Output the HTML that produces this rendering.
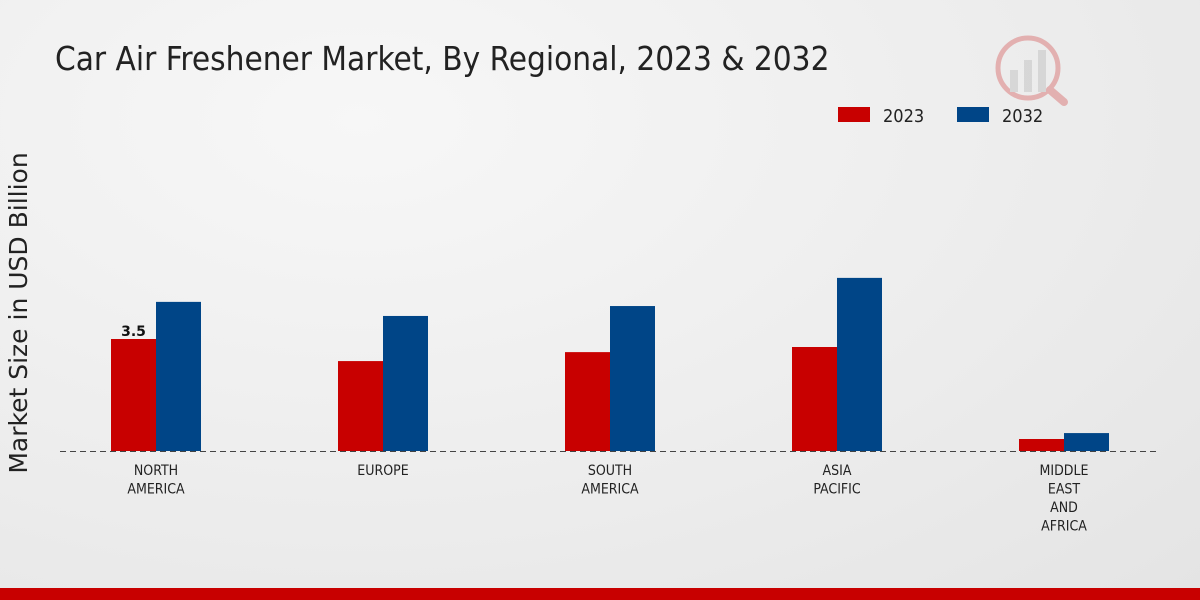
<!DOCTYPE html>
<html><head><meta charset="utf-8"><style>
body{margin:0;width:1200px;height:600px;overflow:hidden;font-family:"DejaVu Sans","Liberation Sans",sans-serif;}
#bg{position:absolute;left:0;top:0;width:1200px;height:600px;background:radial-gradient(ellipse at 30% 20%,#f7f7f7 0%,#ececec 60%,#e4e4e4 100%);}
</style></head><body>
<div id="bg"></div>
<svg id="c" width="1200" height="600" style="position:absolute;left:0;top:0">
<text x="55" y="70" font-size="33" fill="#222" font-family="DejaVu Sans Condensed,DejaVu Sans,sans-serif">Car Air Freshener Market, By Regional, 2023 &amp; 2032</text>
<g>
<rect x="838" y="107" width="32" height="15" fill="#c80000"/>
<text x="883" y="122" font-size="18" fill="#222" font-family="DejaVu Sans Condensed,DejaVu Sans,sans-serif">2023</text>
<rect x="957" y="107" width="32" height="15" fill="#004587"/>
<text x="1002" y="122" font-size="18" fill="#222" font-family="DejaVu Sans Condensed,DejaVu Sans,sans-serif">2032</text>
</g>
<text transform="translate(27,313) rotate(-90)" text-anchor="middle" font-size="25" fill="#222">Market Size in USD Billion</text>
<g opacity="0.25">
<circle cx="1028" cy="68" r="30" fill="none" stroke="#c80000" stroke-width="5"/>
<rect x="1010" y="70" width="8" height="22" fill="#999"/><rect x="1024" y="60" width="8" height="32" fill="#999"/><rect x="1038" y="50" width="8" height="42" fill="#999"/>
<line x1="1050" y1="90" x2="1064" y2="102" stroke="#c80000" stroke-width="8" stroke-linecap="round"/>
</g>
<rect x="0" y="588" width="1200" height="12" fill="#c80000"/>
<g id="plot"></g>
</svg>
<script>
const categories=[["NORTH","AMERICA"],["EUROPE"],["SOUTH","AMERICA"],["ASIA","PACIFIC"],["MIDDLE","EAST","AND","AFRICA"]];
const values2023=[3.5,2.81,3.09,3.25,0.375];
const values2032=[4.66,4.22,4.53,5.41,0.56];
const labels2023=["3.5","","","",""];
const NS="http://www.w3.org/2000/svg";
const g=document.getElementById('plot');
const base=451,scale=32,x0=156,step=227,bw=45;
const y=v=>base-v*scale;
const xc=i=>x0+i*step;
function mk(t,a){const e=document.createElementNS(NS,t);for(const k in a)e.setAttribute(k,a[k]);g.appendChild(e);return e;}
categories.forEach((c,i)=>{
 const r=mk('rect',{x:xc(i)-bw,y:y(values2023[i]),width:bw,height:values2023[i]*scale,fill:'#c80000'});
 
 
 const b=mk('rect',{x:xc(i),y:y(values2032[i]),width:bw,height:values2032[i]*scale,fill:'#004587'});
 
 
 if(labels2023[i]){const t=mk('text',{x:xc(i)-bw/2,y:y(values2023[i])-3,'text-anchor':'middle','font-size':14,'font-weight':'bold',fill:'#111'});t.textContent=labels2023[i];
 
 }
 c.forEach((s,j)=>{const t=mk('text',{x:xc(i),y:475+j*18.5,'text-anchor':'middle','font-size':14,fill:'#222','font-family':'DejaVu Sans Condensed,DejaVu Sans,sans-serif'});t.textContent=s;
 
 });
});
const ax=mk('line',{x1:60,x2:1160,y1:base+0.5,y2:base+0.5,stroke:'#444','stroke-dasharray':'6,4','stroke-width':1});


</script>
</body></html>
